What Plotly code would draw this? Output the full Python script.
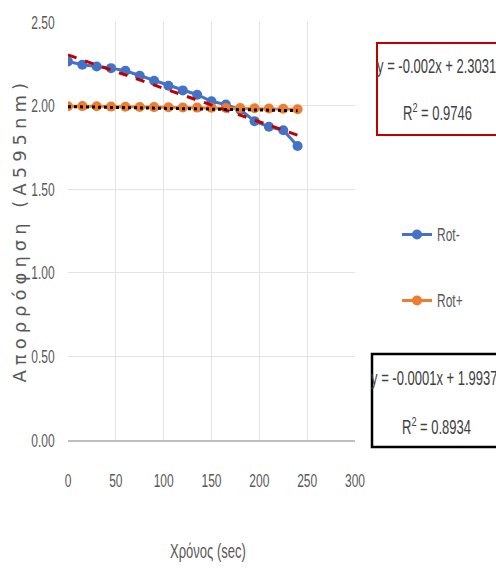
import plotly.graph_objects as go

# ---- data ----
time_s = [0, 15, 30, 45, 60, 75, 90, 105, 120, 135, 150, 165, 180, 195, 210, 225, 240]
rot_minus = [2.264, 2.244, 2.234, 2.224, 2.208, 2.179, 2.149, 2.119, 2.091, 2.065,
             2.026, 2.006, 1.976, 1.907, 1.873, 1.853, 1.758]
rot_plus = [1.996, 1.997, 1.996, 1.994, 1.993, 1.992, 1.991, 1.990, 1.989, 1.988,
            1.987, 1.986, 1.985, 1.984, 1.983, 1.981, 1.978]
# trendline coefficients as printed on the chart
fit_minus = {"slope": -0.002, "intercept": 2.3031, "r2": 0.9746}
fit_plus = {"slope": -0.0001, "intercept": 1.9937, "r2": 0.8934}
trend_x = [time_s[0], time_s[-1]]
x_ticks = [0, 50, 100, 150, 200, 250, 300]
y_ticks = [0.0, 0.5, 1.0, 1.5, 2.0, 2.5]

BLUE = "#4472C4"
ORANGE = "#ED7D31"
NARROW = "Liberation Sans, Arial, sans-serif"
TXT = "#595959"

W, H = 496, 571
L, R, T, B = 68, 141, 22, 131


def px(xp):
    return (xp - L) / (W - L - R)


def py(yp):
    return (H - B - yp) / (H - T - B)


fig = go.Figure()
fig.add_trace(go.Scatter(x=time_s, y=rot_minus, name="Rot-", mode="lines+markers",
                         line=dict(color=BLUE, width=3),
                         marker=dict(color=BLUE, size=10), legendgroup="a"))
fig.add_trace(go.Scatter(x=time_s, y=rot_plus, name="Rot+", mode="lines+markers",
                         line=dict(color=ORANGE, width=3),
                         marker=dict(color=ORANGE, size=10), legendgroup="b"))
fig.add_trace(go.Scatter(x=trend_x,
                         y=[fit_minus["slope"] * v + fit_minus["intercept"] for v in trend_x],
                         mode="lines", line=dict(color="#C00000", width=3, dash="dash"),
                         showlegend=False, hoverinfo="skip"))
fig.add_trace(go.Scatter(x=trend_x,
                         y=[fit_plus["slope"] * v + fit_plus["intercept"] for v in trend_x],
                         mode="lines", line=dict(color="#000000", width=3, dash="dot"),
                         showlegend=False, hoverinfo="skip"))

ann_font = dict(family=NARROW, size=13, color="#404040")

fig.update_layout(
    width=W, height=H,
    margin=dict(l=L, r=R, t=T, b=B),
    plot_bgcolor="white", paper_bgcolor="white",
    font=dict(family=NARROW, size=13, color=TXT),
    legend=dict(x=px(397), y=py(220), xanchor="left", yanchor="top",
                tracegroupgap=47, font=dict(family=NARROW, size=12, color=TXT),
                itemwidth=30),
    xaxis=dict(range=[0, 300], tickvals=x_ticks, showgrid=True, gridcolor="#E3E3E3",
               gridwidth=1, zeroline=False, showline=True, linecolor="#BFBFBF",
               linewidth=2, ticks="outside", ticklen=28, tickcolor="rgba(0,0,0,0)",
               tickfont=dict(family=NARROW, size=12, color=TXT)),
    yaxis=dict(range=[0, 2.5], tickvals=y_ticks, tickformat=".2f", showgrid=True,
               gridcolor="#E3E3E3", gridwidth=1, zeroline=False, showline=False,
               ticks="outside", ticklen=10, tickcolor="rgba(0,0,0,0)",
               tickfont=dict(family=NARROW, size=12, color=TXT)),
    shapes=[
        dict(type="rect", xref="paper", yref="paper", x0=px(377), x1=px(505),
             y0=py(135), y1=py(43), line=dict(color="#C00000", width=2)),
        dict(type="rect", xref="paper", yref="paper", x0=px(372), x1=px(505),
             y0=py(447), y1=py(354), line=dict(color="#000000", width=2.5)),
    ],
    annotations=[
        dict(text="Απορρόφηση (Α595nm)", xref="paper", yref="paper",
             x=px(19), y=py(230), xanchor="center", yanchor="middle",
             textangle=-90, showarrow=False,
             font=dict(family="DejaVu Sans", size=18, color=TXT)),
        dict(text="Χρόνος (sec)", xref="paper", yref="paper",
             x=px(208), y=py(551), xanchor="center", yanchor="middle", showarrow=False,
             font=dict(family=NARROW, size=13, color=TXT)),
        dict(text=f"y = {fit_minus['slope']}x + {fit_minus['intercept']}",
             xref="paper", yref="paper", x=px(436), y=py(67), xanchor="center",
             yanchor="middle", showarrow=False, font=ann_font),
        dict(text=f"R<sup>2</sup> = {fit_minus['r2']}",
             xref="paper", yref="paper", x=px(437), y=py(112), xanchor="center",
             yanchor="middle", showarrow=False, font=ann_font),
        dict(text=f"y = {fit_plus['slope']}x + {fit_plus['intercept']}",
             xref="paper", yref="paper", x=px(434), y=py(378), xanchor="center",
             yanchor="middle", showarrow=False, font=ann_font),
        dict(text=f"R<sup>2</sup> = {fit_plus['r2']}",
             xref="paper", yref="paper", x=px(436), y=py(426), xanchor="center",
             yanchor="middle", showarrow=False, font=ann_font),
    ],
)

# widen the axis title's letter spacing and give the narrow, tall look of the
# reference's text to the other texts (vertical stretch about each text's centre)
post = """
var gd = document.getElementsByClassName('plotly-graph-div')[0];
function stretch(t, s){
  var b = t.getBBox();
  var cy = b.y + b.height / 2;
  var tr = t.getAttribute('transform') || '';
  t.setAttribute('transform', tr + ' translate(0,' + cy + ') scale(1,' + s + ') translate(0,' + (-cy) + ')');
}
document.querySelectorAll('.annotation-text').forEach(function(t){
  if (t.textContent.indexOf('Απορρόφηση') === 0) {
    t.style.letterSpacing = '5px';
  } else {
    stretch(t, 1.5);
  }
});
document.querySelectorAll('.xtick text, .ytick text').forEach(function(t){ stretch(t, 1.6); });
document.querySelectorAll('.legendtext').forEach(function(t){ stretch(t, 1.5); });
"""

fig.write_html("out.html", post_script=post)
